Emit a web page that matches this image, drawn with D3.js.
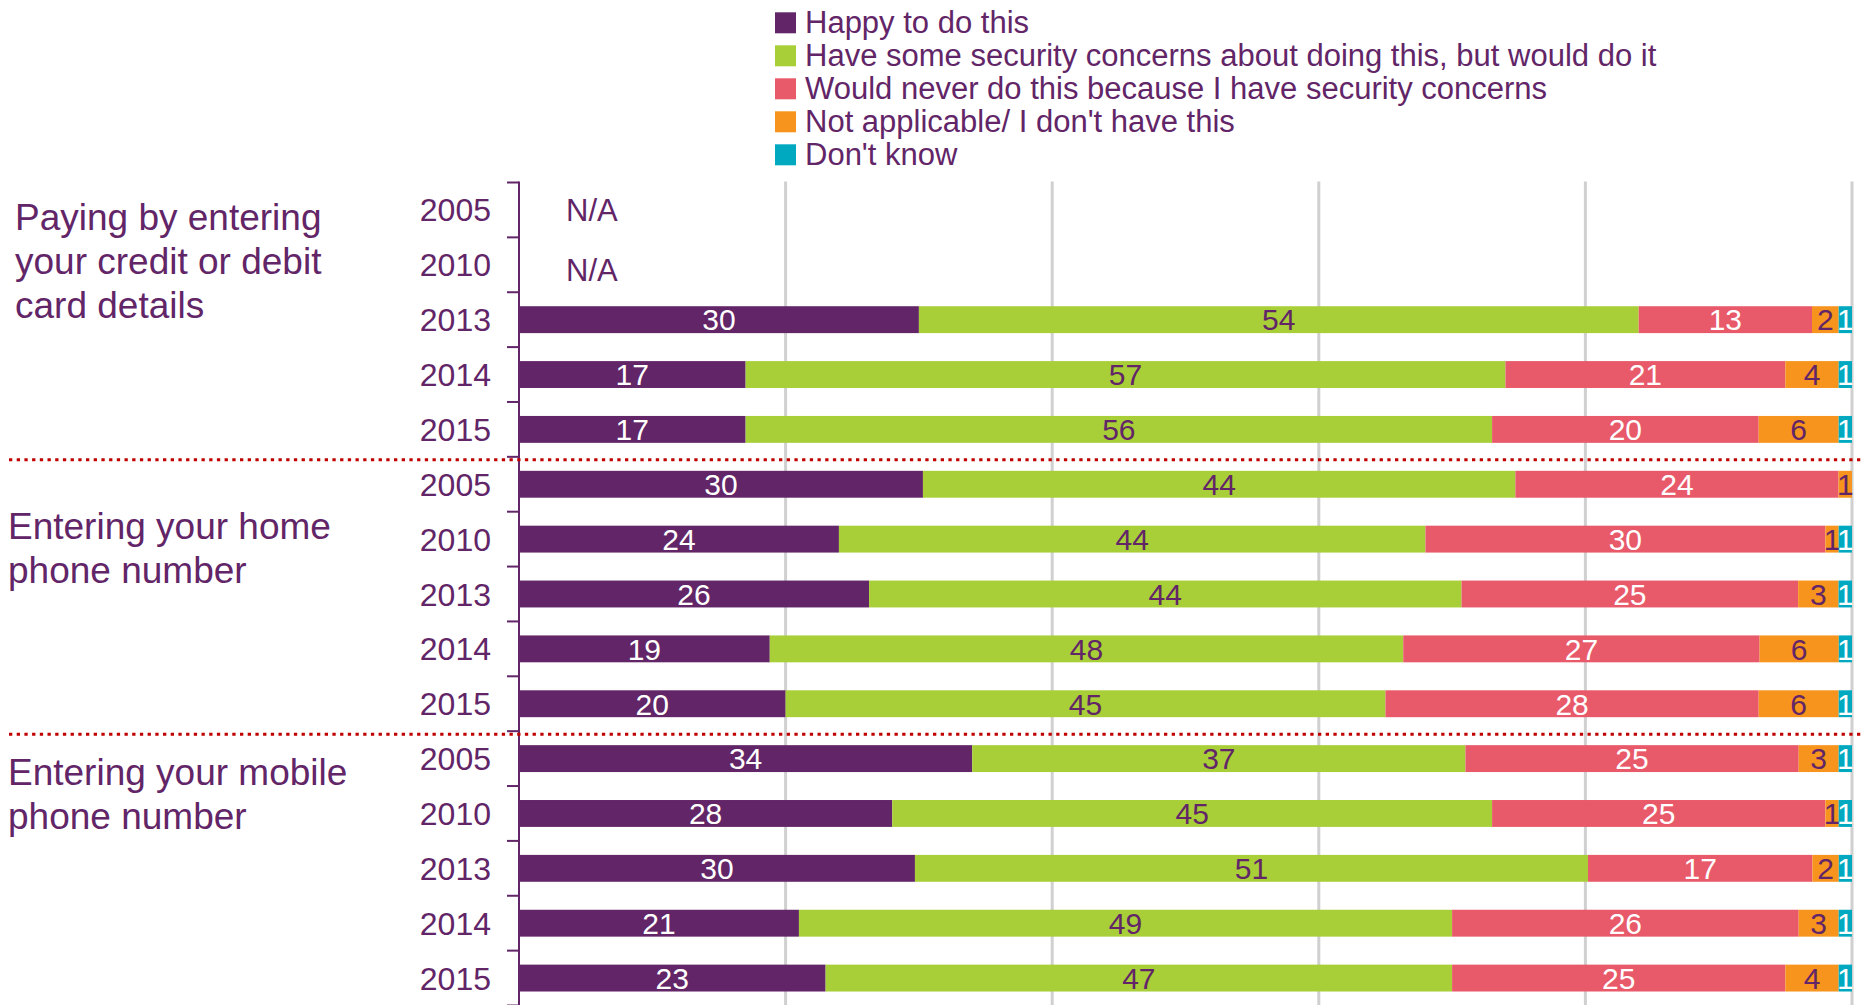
<!DOCTYPE html>
<html>
<head>
<meta charset="utf-8">
<script src="https://cdn.jsdelivr.net/npm/d3@7"></script>
<style>
    body { margin: 0; background: #fff; }
    svg text { font-family: "Liberation Sans", Arial, sans-serif; }
</style>
</head>
<body>
<div id="security-chart"></div>
<script>
(function (window, document) {
    "use strict";

    // data (null = N/A)
    var cGroups = [
        ["Paying by entering", "your credit or debit", "card details"],
        ["Entering your home", "phone number"],
        ["Entering your mobile", "phone number"]
    ];
    var cYears = ["2005", "2010", "2013", "2014", "2015"];
    var cSeries = [
        "Happy to do this",
        "Have some security concerns about doing this, but would do it",
        "Would never do this because I have security concerns",
        "Not applicable/ I don't have this",
        "Don't know"
    ];
    var cHappy         = [null, null, 30, 17, 17,  30, 24, 26, 19, 20,  34, 28, 30, 21, 23];
    var cSomeConcerns  = [null, null, 54, 57, 56,  44, 44, 44, 48, 45,  37, 45, 51, 49, 47];
    var cNever         = [null, null, 13, 21, 20,  24, 30, 25, 27, 28,  25, 25, 17, 26, 25];
    var cNotApplicable = [null, null,  2,  4,  6,   1,  1,  3,  6,  6,   3,  1,  2,  3,  4];
    var cDontKnow      = [null, null,  1,  1,  1,   0,  1,  1,  1,  1,   1,  1,  1,  1,  1];

    var cColors = ["#622567", "#a8cf38", "#e8596a", "#f7941d", "#00a9bf"];
    var cLabelColors = ["#ffffff", "#622567", "#ffffff", "#622567", "#ffffff"];
    var cText = "#622567";

    // layout of the group titles (x, first baseline)
    var cGroupPos = [{ x: 15, y: 230 }, { x: 8, y: 539 }, { x: 8, y: 785 }];

    var vWidth = 1863, vHeight = 1005;
    var vPlotLeft = 519, vPlotRight = 1852, vPlotTop = 182.5, vPlotBottom = 1005.5;

    // build the rows
    var vRows = [];
    cGroups.forEach(function (aGroup, aG) {
        cYears.forEach(function (aYear, aY) {
            var i = aG * cYears.length + aY;
            vRows.push({
                id: i, group: aG, year: aYear,
                na: cHappy[i] === null,
                s0: cHappy[i] || 0, s1: cSomeConcerns[i] || 0, s2: cNever[i] || 0,
                s3: cNotApplicable[i] || 0, s4: cDontKnow[i] || 0
            });
        });
    });

    var svg = d3.select("#security-chart")
        .append("svg")
        .attr("width", vWidth)
        .attr("height", vHeight);

    var vX = d3.scaleLinear().domain([0, 1]).range([vPlotLeft, vPlotRight]);
    var vY = d3.scaleBand()
        .domain(vRows.map(function (d) { return d.id; }))
        .range([vPlotTop, vPlotBottom])
        .paddingInner(0.51)
        .paddingOuter(0.255);
    var vStep = vY.step();

    // gridlines
    svg.append("g")
        .selectAll("line")
        .data(vX.ticks(5).slice(1))
        .enter()
        .append("line")
            .attr("x1", function (d) { return vX(d); })
            .attr("x2", function (d) { return vX(d); })
            .attr("y1", vPlotTop - 1)
            .attr("y2", vHeight)
            .attr("stroke", "#d0d0d0")
            .attr("stroke-width", 3);

    // stacked bars, every row expanded to 100%
    var vStack = d3.stack()
        .keys(["s0", "s1", "s2", "s3", "s4"])
        .offset(d3.stackOffsetExpand);
    var vLayers = vStack(vRows);

    var vLayerG = svg.append("g")
        .selectAll("g")
        .data(vLayers)
        .enter()
        .append("g")
            .attr("fill", function (d, i) { return cColors[i]; });

    vLayerG.selectAll("rect")
        .data(function (d) { return d.filter(function (p) { return !p.data.na && p[1] > p[0]; }); })
        .enter()
        .append("rect")
            .attr("x", function (d) { return vX(d[0]); })
            .attr("y", function (d) { return vY(d.data.id); })
            .attr("width", function (d) { return vX(d[1]) - vX(d[0]); })
            .attr("height", vY.bandwidth());

    vLayerG.selectAll("text")
        .data(function (d, i) {
            return d.filter(function (p) { return !p.data.na && p[1] > p[0]; })
                .map(function (p) { return { p: p, key: d.key, idx: i }; });
        })
        .enter()
        .append("text")
            .attr("x", function (d) { return (vX(d.p[0]) + vX(d.p[1])) / 2; })
            .attr("y", function (d) { return vY(d.p.data.id) + vY.bandwidth() / 2; })
            .attr("dy", "0.36em")
            .attr("text-anchor", "middle")
            .attr("font-size", "30px")
            .attr("fill", function (d) { return cLabelColors[d.idx]; })
            .text(function (d) { return d.p.data[d.key]; });

    // N/A rows
    svg.append("g")
        .selectAll("text")
        .data(vRows.filter(function (d) { return d.na; }))
        .enter()
        .append("text")
            .attr("x", 566)
            .attr("y", function (d, i) { return vY(d.id) + vY.bandwidth() / 2 + i * 5; })
            .attr("dy", "0.36em")
            .attr("font-size", "31px")
            .attr("fill", cText)
            .text("N/A");

    // axis with ticks between rows
    var vAxis = svg.append("g");
    vAxis.append("line")
        .attr("x1", vPlotLeft).attr("x2", vPlotLeft)
        .attr("y1", vPlotTop - 1).attr("y2", vHeight)
        .attr("stroke", cText)
        .attr("stroke-width", 2);
    vAxis.selectAll("line.tick")
        .data(d3.range(vRows.length + 1))
        .enter()
        .append("line")
            .attr("class", "tick")
            .attr("x1", vPlotLeft - 12).attr("x2", vPlotLeft)
            .attr("y1", function (d) { return vPlotTop + d * vStep; })
            .attr("y2", function (d) { return vPlotTop + d * vStep; })
            .attr("stroke", cText)
            .attr("stroke-width", 2);

    // year labels
    svg.append("g")
        .selectAll("text")
        .data(vRows)
        .enter()
        .append("text")
            .attr("x", 491)
            .attr("y", function (d) { return vY(d.id) + vY.bandwidth() / 2; })
            .attr("dy", "0.36em")
            .attr("text-anchor", "end")
            .attr("font-size", "32px")
            .attr("fill", cText)
            .text(function (d) { return d.year; });

    // dotted separators between the groups
    svg.append("g")
        .selectAll("line")
        .data([1, 2])
        .enter()
        .append("line")
            .attr("x1", 9).attr("x2", vWidth)
            .attr("y1", function (d) { return vPlotTop + d * cYears.length * vStep + 3; })
            .attr("y2", function (d) { return vPlotTop + d * cYears.length * vStep + 3; })
            .attr("stroke", "#c00000")
            .attr("stroke-width", 3)
            .attr("stroke-dasharray", "3.3,4.4");

    // group titles
    svg.append("g")
        .selectAll("text")
        .data(cGroups)
        .enter()
        .append("text")
            .attr("font-size", "37px")
            .attr("fill", cText)
            .each(function (aLines, i) {
                var vT = d3.select(this);
                aLines.forEach(function (aLine, j) {
                    vT.append("tspan")
                        .attr("x", cGroupPos[i].x)
                        .attr("y", cGroupPos[i].y + j * 44)
                        .text(aLine);
                });
            });

    // legend
    var vLegend = svg.append("g")
        .selectAll("g")
        .data(cSeries)
        .enter()
        .append("g")
            .attr("transform", function (d, i) { return "translate(775," + (22.8 + i * 33) + ")"; });
    vLegend.append("rect")
        .attr("x", 0).attr("y", -10.5)
        .attr("width", 21).attr("height", 21)
        .attr("fill", function (d, i) { return cColors[i]; });
    vLegend.append("text")
        .attr("x", 30)
        .attr("y", 0)
        .attr("dy", "0.34em")
        .attr("font-size", "31px")
        .attr("fill", cText)
        .text(function (d) { return d; });

})(window, document);
</script>
</body>
</html>
